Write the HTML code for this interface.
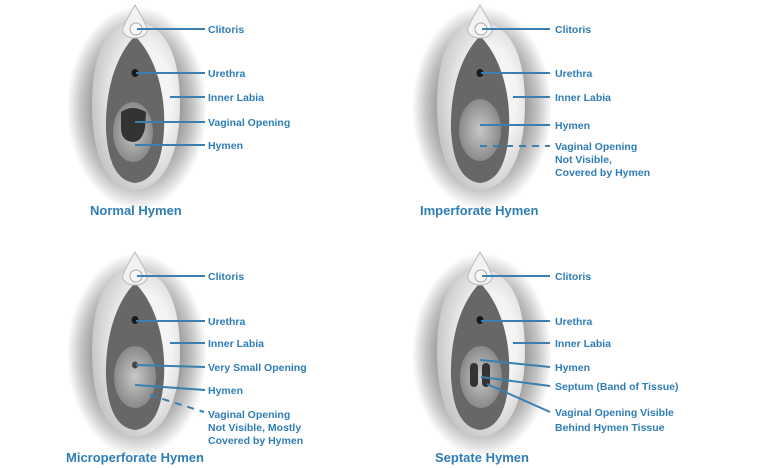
<!DOCTYPE html>
<html><head><meta charset="utf-8"><style>
html,body{margin:0;padding:0;background:#fff;}
svg{display:block;}
text{font-family:"Liberation Sans",sans-serif;font-weight:bold;fill:#2f7db5;font-size:10.5px;}
.t{font-size:13px;fill:#2f7db5;}
line{stroke:#3a7fb0;stroke-width:2;}
</style></head><body>
<svg width="760" height="468" viewBox="0 0 760 468" xmlns="http://www.w3.org/2000/svg">
<defs>
<radialGradient id="halo" cx="50%" cy="50%" r="50%">
<stop offset="0.55" stop-color="#8c8c8c"/><stop offset="0.8" stop-color="#c4c4c4"/><stop offset="1" stop-color="#fff"/>
</radialGradient>
<radialGradient id="lab" cx="60%" cy="45%" r="60%">
<stop offset="0.5" stop-color="#f4f4f4"/><stop offset="1" stop-color="#c8c8c8"/>
</radialGradient>
<radialGradient id="hy" cx="50%" cy="50%" r="50%">
<stop offset="0" stop-color="#c8c8c8"/><stop offset="1" stop-color="#8a8a8a"/>
</radialGradient>
<g id="base">
<ellipse cx="137" cy="108" rx="70" ry="102" fill="url(#halo)"/>
<path d="M135,22 C168,24 180,60 180,105 C180,150 166,188 135,190 C104,188 92,150 92,105 C92,60 103,24 135,22Z" fill="url(#lab)"/>
<path d="M135,36 C154,55 166,90 164,130 C162,165 152,181 135,183 C118,181 108,165 106,130 C105,90 116,55 135,36Z" fill="#676767"/>
<path d="M135,5 C131,12 126,20 124,26 C120,32 126,38 135,38 C144,38 150,32 146,26 C144,20 139,12 135,5Z" fill="#f2f2f2" stroke="#bbb" stroke-width="1"/>
<circle cx="136" cy="29" r="6" fill="#f8f8f8" stroke="#aaa" stroke-width="1"/>
<ellipse cx="135" cy="73" rx="3.5" ry="4" fill="#1a1a1a"/>
</g>
</defs>

<!-- Normal -->
<use href="#base"/>
<ellipse cx="133" cy="132" rx="20" ry="30" fill="url(#hy)"/>
<path d="M121,112 Q132,104 146,112 L145,128 Q142,142 133,142 Q121,141 121,128Z" fill="#333"/>
<line x1="137" y1="29" x2="205" y2="29"/><text x="208" y="33">Clitoris</text>
<line x1="136" y1="73" x2="205" y2="73"/><text x="208" y="77">Urethra</text>
<line x1="170" y1="97" x2="205" y2="97"/><text x="208" y="101">Inner Labia</text>
<line x1="135" y1="122" x2="205" y2="122"/><text x="208" y="126">Vaginal Opening</text>
<line x1="135" y1="145" x2="205" y2="145"/><text x="208" y="149">Hymen</text>
<text class="t" x="90" y="215">Normal Hymen</text>

<!-- Imperforate -->
<g transform="translate(345,0)"><use href="#base"/>
<ellipse cx="135" cy="130" rx="21" ry="31" fill="url(#hy)"/></g>
<line x1="482" y1="29" x2="550" y2="29"/><text x="555" y="33">Clitoris</text>
<line x1="481" y1="73" x2="550" y2="73"/><text x="555" y="77">Urethra</text>
<line x1="513" y1="97" x2="550" y2="97"/><text x="555" y="101">Inner Labia</text>
<line x1="480" y1="125" x2="550" y2="125"/><text x="555" y="129">Hymen</text>
<line x1="480" y1="146" x2="550" y2="146" stroke-dasharray="7,6"/><text x="555" y="150">Vaginal Opening</text>
<text x="555" y="163">Not Visible,</text><text x="555" y="176">Covered by Hymen</text>
<text class="t" x="420" y="215">Imperforate Hymen</text>

<!-- Microperforate -->
<g transform="translate(0,247)"><use href="#base"/>
<ellipse cx="135" cy="130" rx="21" ry="31" fill="url(#hy)"/>
<ellipse cx="135" cy="118" rx="3" ry="3.5" fill="#444"/></g>
<line x1="137" y1="276" x2="205" y2="276"/><text x="208" y="280">Clitoris</text>
<line x1="136" y1="321" x2="205" y2="321"/><text x="208" y="325">Urethra</text>
<line x1="170" y1="343" x2="205" y2="343"/><text x="208" y="347">Inner Labia</text>
<line x1="136" y1="365" x2="205" y2="367"/><text x="208" y="371">Very Small Opening</text>
<line x1="135" y1="385" x2="205" y2="390"/><text x="208" y="394">Hymen</text>
<line x1="150" y1="395" x2="204" y2="412" stroke-dasharray="7,6"/><text x="208" y="418">Vaginal Opening</text>
<text x="208" y="431">Not Visible, Mostly</text><text x="208" y="444">Covered by Hymen</text>
<text class="t" x="66" y="462">Microperforate Hymen</text>

<!-- Septate -->
<g transform="translate(345,247)"><use href="#base"/>
<ellipse cx="136" cy="130" rx="21" ry="31" fill="url(#hy)"/>
<rect x="125" y="116" width="8" height="24" rx="4" fill="#333"/>
<rect x="137" y="116" width="8" height="24" rx="4" fill="#333"/></g>
<line x1="482" y1="276" x2="550" y2="276"/><text x="555" y="280">Clitoris</text>
<line x1="481" y1="321" x2="550" y2="321"/><text x="555" y="325">Urethra</text>
<line x1="513" y1="343" x2="550" y2="343"/><text x="555" y="347">Inner Labia</text>
<line x1="480" y1="360" x2="550" y2="367"/><text x="555" y="371">Hymen</text>
<line x1="481" y1="377" x2="550" y2="386"/><text x="555" y="390">Septum (Band of Tissue)</text>
<line x1="487" y1="384" x2="550" y2="412"/><text x="555" y="416">Vaginal Opening Visible</text>
<text x="555" y="431">Behind Hymen Tissue</text>
<text class="t" x="435" y="462">Septate Hymen</text>
</svg>
</body></html>
